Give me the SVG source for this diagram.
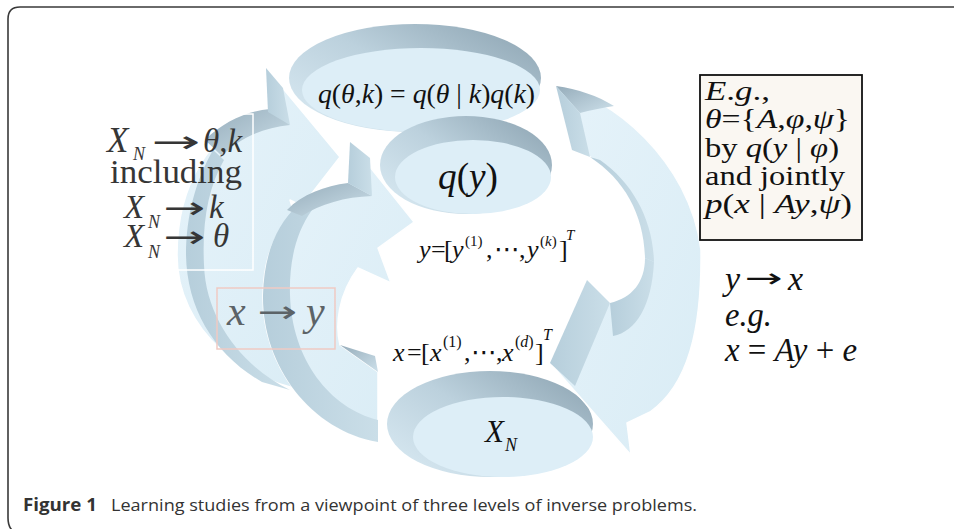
<svg xmlns="http://www.w3.org/2000/svg" width="954" height="529" viewBox="0 0 954 529">
<defs>
  <linearGradient id="rim" x1="0" y1="0.9" x2="1" y2="0.1">
    <stop offset="0" stop-color="#d8e9f2"/>
    <stop offset="0.5" stop-color="#bcd1dd"/>
    <stop offset="1" stop-color="#8ea5b3"/>
  </linearGradient>
  <linearGradient id="face" x1="0" y1="0" x2="1" y2="1">
    <stop offset="0" stop-color="#e6f3fa"/>
    <stop offset="1" stop-color="#d9ecf5"/>
  </linearGradient>
  <linearGradient id="side" x1="0" y1="0" x2="1" y2="0">
    <stop offset="0" stop-color="#b6cedb"/>
    <stop offset="1" stop-color="#cadee8"/>
  </linearGradient>
  <linearGradient id="dark" x1="0" y1="0" x2="1" y2="1">
    <stop offset="0" stop-color="#95acba"/>
    <stop offset="1" stop-color="#cde0ea"/>
  </linearGradient>
</defs>
<style>
  .rim{fill:url(#rim)}
  .dface{fill:#ddeef7}
  .band{fill:url(#face);stroke:#ffffff;stroke-width:1.5;stroke-linejoin:round}
  .side{fill:url(#side)}
  .dark{fill:url(#dark)}
  .serif{font-family:"Liberation Serif","DejaVu Serif","DejaVu Sans",serif}
  .arr{font-family:"DejaVu Sans","Liberation Sans",sans-serif;font-style:normal}
  .it{font-style:italic}
  .sans{font-family:"Open Sans","Noto Sans","Liberation Sans",sans-serif}
</style>

<rect width="954" height="529" fill="#ffffff"/>

<!-- frame -->
<path d="M954,7 H20 Q8,7 8,19 V518 Q8,527 13,531" fill="none" stroke="#3a3a3a" stroke-width="1.6"/>

<!-- discs -->
<g id="disc-top">
  <ellipse class="rim" cx="415" cy="78" rx="126" ry="54"/>
  <ellipse class="dface" cx="421" cy="90" rx="119" ry="42"/>
</g>
<g id="disc-qy">
  <ellipse class="rim" cx="466" cy="165" rx="86" ry="49"/>
  <ellipse class="dface" cx="473" cy="177" rx="78" ry="37"/>
</g>
<g id="disc-xn">
  <ellipse class="rim" cx="490" cy="424" rx="103" ry="53"/>
  <ellipse class="dface" cx="503" cy="437" rx="90" ry="40"/>
</g>

<!-- arrows -->
<g id="arrow-outer-left">
  <path class="band" d="M318,392 C245,385 177,330 177,255 C177,185 210,128 268,112 L266,68 L340,157 L302,206 L290,200 L300,232 L300,320 Z"/>
  <path class="side" d="M213,150 C196,180 186,215 186,255 C187,310 215,355 262,382 L290,390 C245,368 206,322 204,265 C202,222 208,188 224,160 Z"/>
  <path class="dark" d="M205,140 C224,121 248,111 270,109 L290,125 C264,128 240,137 222,156 Z"/>
  <path class="side" d="M266,68 L283,88 L290,125 L268,112 Z"/>
</g>
<g id="arrow-inner-left">
  <path class="band" d="M378,442 C310,430 262,365 263,295 C264,235 295,195 348,183 L350,142 L414,222 L378,248 L391,283 L358,268 C338,295 335,325 340,345 L378,372 Z"/>
  <path class="side" d="M378,442 C310,430 262,365 263,295 C264,255 276,225 298,205 L312,210 C296,232 289,262 290,295 C292,360 330,408 378,420 Z"/>
  <path class="dark" d="M287,210 C302,194 325,186 348,183 L372,196 C345,197 320,204 302,216 Z"/>
  <path class="side" d="M350,142 L370,158 L372,196 L348,183 Z"/>
  <path class="dark" d="M340,345 L375,356 L378,372 Z"/>
</g>
<g id="arrow-right">
  <path class="band" d="M556,86 C610,95 690,160 701,250 C702,330 688,385 650,412 L627,423 L631,455 L550,363 L587,280 L610,303 C632,298 645,282 645,258 C644,215 625,180 590,157 L572,150 Z"/>
  <path class="dark" d="M556,86 C578,89 598,96 614,106 C602,108 590,110 580,113 Z"/>
  <path class="side" d="M556,86 L580,113 L590,157 L572,150 Z"/>
  <path class="side" d="M590,157 C625,180 644,215 645,258 L654,262 C653,220 633,183 600,160 Z"/>
  <path class="side" d="M610,303 L613,336 C636,332 652,305 654,262 L645,258 C645,282 632,298 610,303 Z"/>
  <path class="side" d="M587,280 L610,303 L575,386 L550,363 Z"/>
</g>

<!-- boxes -->
<rect x="100" y="114" width="153" height="156" fill="none" stroke="#ffffff" stroke-width="1.5"/>
<rect x="217" y="288" width="118" height="61" fill="none" stroke="#efcac3" stroke-width="1.5"/>

<!-- left text -->
<g id="left-text" class="serif" fill="#363636">
  <text x="107" y="152" font-size="35" class="it">X<tspan x="133" y="160" font-size="18">N</tspan></text>
  <text x="151" y="152" font-size="30" class="arr" textLength="49" lengthAdjust="spacingAndGlyphs">→</text>
  <text x="203" y="152" font-size="33"><tspan class="it">θ</tspan>,<tspan class="it">k</tspan></text>
  <text x="110" y="183" font-size="33" textLength="132" lengthAdjust="spacingAndGlyphs">including</text>
  <text x="124" y="218" font-size="33" class="it">X<tspan x="148" y="228" font-size="18">N</tspan></text>
  <text x="163" y="218" font-size="30" class="arr" textLength="42" lengthAdjust="spacingAndGlyphs">→</text>
  <text x="209" y="218" font-size="33" class="it">k</text>
  <text x="124" y="247" font-size="33" class="it">X<tspan x="148" y="258" font-size="18">N</tspan></text>
  <text x="163" y="247" font-size="30" class="arr" textLength="42" lengthAdjust="spacingAndGlyphs">→</text>
  <text x="213" y="247" font-size="33" class="it">θ</text>
</g>

<g id="xy-label" class="serif" fill="#5c6367">
  <text x="227" y="325" font-size="42" class="it">x</text>
  <text x="257" y="322" font-size="30" class="arr" textLength="40" lengthAdjust="spacingAndGlyphs">→</text>
  <text x="306" y="325" font-size="42" class="it">y</text>
</g>

<!-- center text -->
<g id="center-text" class="serif" fill="#111111">
  <text x="318" y="103" font-size="28" textLength="217" lengthAdjust="spacingAndGlyphs"><tspan class="it">q</tspan>(<tspan class="it">θ</tspan>,<tspan class="it">k</tspan>) = <tspan class="it">q</tspan>(<tspan class="it">θ</tspan> | <tspan class="it">k</tspan>)<tspan class="it">q</tspan>(<tspan class="it">k</tspan>)</text>
  <text x="438" y="189" font-size="38" textLength="60" lengthAdjust="spacingAndGlyphs"><tspan class="it">q</tspan>(<tspan class="it">y</tspan>)</text>
  <text font-size="26"><tspan x="419" y="258" class="it">y</tspan><tspan x="431" y="258">=</tspan><tspan x="444" y="258">[</tspan><tspan x="452" y="258" class="it">y</tspan><tspan x="465" y="246" font-size="15">(1)</tspan><tspan x="486" y="258">,</tspan><tspan x="494" y="258">⋯</tspan><tspan x="519" y="258">,</tspan><tspan x="527" y="258" class="it">y</tspan><tspan x="540" y="246" font-size="15">(<tspan class="it">k</tspan>)</tspan><tspan x="559" y="258">]</tspan><tspan x="566" y="240" font-size="15" class="it">T</tspan></text>
  <text font-size="26"><tspan x="393" y="361" class="it">x</tspan><tspan x="407" y="361">=</tspan><tspan x="421" y="361">[</tspan><tspan x="430" y="361" class="it">x</tspan><tspan x="443" y="347" font-size="16">(1)</tspan><tspan x="464" y="361">,</tspan><tspan x="471" y="361">⋯</tspan><tspan x="496" y="361">,</tspan><tspan x="502" y="361" class="it">x</tspan><tspan x="515" y="347" font-size="16">(<tspan class="it">d</tspan>)</tspan><tspan x="535" y="361">]</tspan><tspan x="543" y="340" font-size="16" class="it">T</tspan></text>
  <text x="485" y="442" font-size="31" class="it">X<tspan x="505" y="451" font-size="18">N</tspan></text>
</g>

<!-- example box -->
<g id="example-box" class="serif" fill="#111111">
  <rect x="700" y="75" width="162" height="165" fill="#faf7f2" stroke="#111111" stroke-width="1.8"/>
  <text x="705" y="100" font-size="27" textLength="65" lengthAdjust="spacingAndGlyphs"><tspan class="it">E</tspan>.<tspan class="it">g</tspan>.,</text>
  <text x="705" y="128" font-size="27" textLength="145" lengthAdjust="spacingAndGlyphs"><tspan class="it">θ</tspan>={<tspan class="it">A</tspan>,<tspan class="it">φ</tspan>,<tspan class="it">ψ</tspan>}</text>
  <text x="705" y="157" font-size="27" textLength="134" lengthAdjust="spacingAndGlyphs">by <tspan class="it">q</tspan>(<tspan class="it">y</tspan> | <tspan class="it">φ</tspan>)</text>
  <text x="705" y="185" font-size="27" textLength="140" lengthAdjust="spacingAndGlyphs">and jointly</text>
  <text x="705" y="213" font-size="27" textLength="147" lengthAdjust="spacingAndGlyphs"><tspan class="it">p</tspan>(<tspan class="it">x</tspan> | <tspan class="it">Ay</tspan>,<tspan class="it">ψ</tspan>)</text>
</g>

<!-- right text -->
<g id="right-text" class="serif" fill="#111111">
  <text x="725" y="290" font-size="34" class="it">y</text>
  <text x="745" y="287" font-size="26" class="arr" textLength="38" lengthAdjust="spacingAndGlyphs">→</text>
  <text x="788" y="290" font-size="34" class="it">x</text>
  <text x="725" y="326" font-size="34" class="it" textLength="47" lengthAdjust="spacingAndGlyphs">e.g.</text>
  <text x="725" y="361" font-size="34" textLength="132" lengthAdjust="spacingAndGlyphs"><tspan class="it">x</tspan> = <tspan class="it">Ay</tspan> + <tspan class="it">e</tspan></text>
</g>

<!-- caption -->
<g id="caption" class="sans" fill="#333333">
  <text x="23" y="511" font-size="17" font-weight="bold" textLength="74" lengthAdjust="spacingAndGlyphs">Figure 1</text>
  <text x="111" y="511" font-size="17" textLength="586" lengthAdjust="spacingAndGlyphs">Learning studies from a viewpoint of three levels of inverse problems.</text>
</g>
</svg>
